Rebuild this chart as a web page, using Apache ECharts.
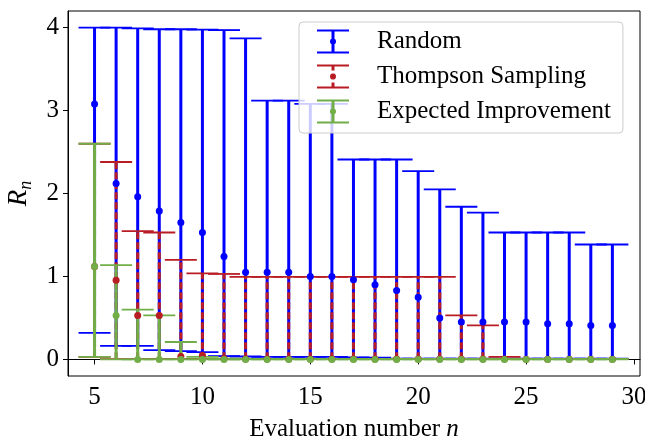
<!DOCTYPE html>
<html>
<head>
<meta charset="utf-8">
<script src="https://cdn.jsdelivr.net/npm/echarts@6/dist/echarts.min.js"></script>
<style>
  html, body { margin: 0; padding: 0; background: #fff; }
  #chart { width: 645px; height: 441px; }
</style>
</head>
<body>
<div id="chart"></div>
<script>
// evaluation numbers
const evals = [5, 6, 7, 8, 9, 10, 11, 12, 13, 14, 15, 16, 17, 18, 19, 20, 21, 22, 23, 24, 25, 26, 27, 28, 29];

// Random
const randomMean = [3.08, 2.12, 1.96, 1.79, 1.65, 1.53, 1.24, 1.05, 1.05, 1.05, 1.0, 1.0, 0.96, 0.90, 0.83, 0.75, 0.50, 0.45, 0.45, 0.45, 0.45, 0.43, 0.43, 0.41, 0.41];
const randomLow = [0.32, 0.164, 0.164, 0.112, 0.10, 0.088, 0.04, 0.035, 0.03, 0.03, 0.03, 0.03, 0.025, 0.02, 0.01, 0.01, 0.01, 0.01, 0.01, 0.01, 0.01, 0.01, 0.01, 0.01, 0.01];
const randomHigh = [4.0, 4.0, 3.99, 3.98, 3.98, 3.975, 3.97, 3.87, 3.12, 3.12, 3.08, 3.08, 2.41, 2.41, 2.41, 2.27, 2.05, 1.84, 1.77, 1.53, 1.53, 1.53, 1.53, 1.385, 1.385];

// Thompson Sampling
const tsMean = [1.12, 0.955, 0.53, 0.53, 0.035, 0.05, 0.01, 0.005, 0.005, 0.005, 0.005, 0.005, 0.005, 0.005, 0.005, 0.005, 0.005, 0.005, 0.005, 0.004, 0.003, 0.003, 0.003, 0.003, 0.003];
const tsLow = [0.03, 0.003, 0.003, 0.003, 0.003, 0.003, 0.003, 0.003, 0.003, 0.003, 0.003, 0.003, 0.003, 0.003, 0.003, 0.003, 0.003, 0.003, 0.003, 0.003, 0.003, 0.003, 0.003, 0.003, 0.003];
const tsHigh = [2.6, 2.38, 1.546, 1.53, 1.2, 1.036, 1.03, 0.995, 0.995, 0.995, 0.995, 0.995, 0.995, 0.995, 0.995, 0.995, 0.995, 0.53, 0.41, 0.03, 0.005, 0.005, 0.005, 0.005, 0.005];

// Expected Improvement
const eiMean = [1.12, 0.53, 0.0, 0.0, 0.0, 0.0, 0.0, 0.0, 0.0, 0.0, 0.0, 0.0, 0.0, 0.0, 0.0, 0.0, 0.0, 0.0, 0.0, 0.0, 0.0, 0.0, 0.0, 0.0, 0.0];
const eiLow = [0.03, 0.0, 0.0, 0.0, 0.0, 0.0, 0.0, 0.0, 0.0, 0.0, 0.0, 0.0, 0.0, 0.0, 0.0, 0.0, 0.0, 0.0, 0.0, 0.0, 0.0, 0.0, 0.0, 0.0, 0.0];
const eiHigh = [2.6, 1.136, 0.6, 0.53, 0.21, 0.03, 0.01, 0.005, 0.005, 0.005, 0.005, 0.005, 0.005, 0.005, 0.005, 0.005, 0.005, 0.005, 0.005, 0.005, 0.005, 0.005, 0.005, 0.005, 0.005];

const xTicks = [5, 10, 15, 20, 25, 30];
const yTicks = [0, 1, 2, 3, 4];

const BLUE = "#0000ff";
const RED = "#b81d24";
const GREEN = "#72ae48";
const FONT = "Liberation Serif";

function bars(low, high) {
  return evals.map((n, i) => [n, low[i], high[i]]);
}
function points(mean) {
  return evals.map((n, i) => [n, mean[i]]);
}

function errRender(color, dashed) {
  return function(params, api) {
    let x = api.value(0);
    let lo = api.coord([x, api.value(1)]);
    let hi = api.coord([x, api.value(2)]);
    let half = 16;
    return {
      type: "group",
      children: [
        {
          type: "line",
          shape: { x1: lo[0], y1: lo[1], x2: hi[0], y2: hi[1] },
          style: { stroke: color, lineWidth: 3, lineDash: dashed ? [7, 3] : null }
        },
        {
          type: "line",
          shape: { x1: hi[0] - half, y1: hi[1], x2: hi[0] + half, y2: hi[1] },
          style: { stroke: color, lineWidth: 1.8 }
        },
        {
          type: "line",
          shape: { x1: lo[0] - half, y1: lo[1], x2: lo[0] + half, y2: lo[1] },
          style: { stroke: color, lineWidth: 1.8 }
        }
      ]
    };
  };
}

// legend glyphs: cap, bar, cap, dot
const dot = "M16 9 A3 3 0 1 1 16 15 A3 3 0 1 1 16 9 Z";
const iconSolid = "path://M0 0 L32 0 L32 2 L0 2 Z M14.5 0 L17.5 0 L17.5 24 L14.5 24 Z M0 22 L32 22 L32 24 L0 24 Z " + dot;
const iconDashed = "path://M0 0 L32 0 L32 2 L0 2 Z M14.5 0 L17.5 0 L17.5 6 L14.5 6 Z M14.5 9 L17.5 9 L17.5 15 L14.5 15 Z M14.5 18 L17.5 18 L17.5 24 L14.5 24 Z M0 22 L32 22 L32 24 L0 24 Z " + dot;

let chart = echarts.init(document.getElementById("chart"));

let option = {
  animation: false,
  backgroundColor: "#fff",
  grid: {
    left: 68,
    right: 5,
    top: 11,
    bottom: 65,
    outerBoundsMode: "none",
    show: true,
    borderColor: "#000",
    borderWidth: 1
  },
  legend: {
    data: [
      { name: "Random", icon: iconSolid },
      { name: "Thompson Sampling", icon: iconDashed },
      { name: "Expected Improvement", icon: iconSolid }
    ],
    orient: "vertical",
    left: 299,
    top: 22,
    itemWidth: 32,
    itemHeight: 24,
    itemGap: 10,
    padding: [7, 12, 9, 18],
    backgroundColor: "rgba(255,255,255,0.8)",
    borderColor: "#cccccc",
    borderWidth: 1,
    borderRadius: 4,
    selectedMode: false,
    textStyle: {
      fontFamily: FONT,
      fontSize: 25,
      lineHeight: 24,
      color: "#000",
      padding: [0, 0, 0, 23]
    }
  },
  xAxis: {
    type: "value",
    min: 3.77,
    max: 30.28,
    name: "Evaluation number {i|n}",
    nameLocation: "middle",
    nameGap: 41,
    nameTextStyle: {
      fontFamily: FONT,
      fontSize: 25,
      color: "#000",
      rich: { i: { fontFamily: FONT, fontSize: 25, fontStyle: "italic", color: "#000" } }
    },
    axisLine: { show: true, lineStyle: { color: "#000", width: 1 } },
    axisTick: { show: true, length: 5, lineStyle: { color: "#000" }, customValues: xTicks },
    axisLabel: { fontFamily: FONT, fontSize: 25, color: "#000", margin: 9, customValues: xTicks },
    splitLine: { show: false }
  },
  yAxis: {
    type: "value",
    min: -0.2,
    max: 4.2,
    name: "{r|R}{s|n}",
    nameLocation: "middle",
    nameRotate: 90,
    nameGap: 24,
    nameTextStyle: {
      rich: {
        r: { fontFamily: FONT, fontSize: 27, fontStyle: "italic", color: "#000", lineHeight: 30, verticalAlign: "top" },
        s: { fontFamily: FONT, fontSize: 18, fontStyle: "italic", color: "#000", lineHeight: 18, verticalAlign: "bottom" }
      }
    },
    axisLine: { show: true, lineStyle: { color: "#000", width: 1 } },
    axisTick: { show: true, length: 5, lineStyle: { color: "#000" }, customValues: yTicks },
    axisLabel: { fontFamily: FONT, fontSize: 25, color: "#000", margin: 9, customValues: yTicks },
    splitLine: { show: false }
  },
  series: [
    {
      name: "Random",
      type: "custom",
      z: 2,
      itemStyle: { color: BLUE },
      renderItem: errRender(BLUE, false),
      encode: { x: 0, y: [1, 2] },
      data: bars(randomLow, randomHigh)
    },
    {
      name: "Thompson Sampling",
      type: "custom",
      z: 2,
      itemStyle: { color: RED },
      renderItem: errRender(RED, true),
      encode: { x: 0, y: [1, 2] },
      data: bars(tsLow, tsHigh)
    },
    {
      name: "Expected Improvement",
      type: "custom",
      z: 2,
      itemStyle: { color: GREEN },
      renderItem: errRender(GREEN, false),
      encode: { x: 0, y: [1, 2] },
      data: bars(eiLow, eiHigh)
    },
    {
      name: "Random mean",
      type: "scatter",
      z: 3,
      symbolSize: 7,
      itemStyle: { color: BLUE, opacity: 1 },
      data: points(randomMean)
    },
    {
      name: "Thompson mean",
      type: "scatter",
      z: 3,
      symbolSize: 7,
      itemStyle: { color: RED, opacity: 1 },
      data: points(tsMean)
    },
    {
      name: "EI mean",
      type: "scatter",
      z: 3,
      symbolSize: 7,
      itemStyle: { color: GREEN, opacity: 1 },
      data: points(eiMean)
    }
  ]
};

chart.setOption(option);
</script>
</body>
</html>
